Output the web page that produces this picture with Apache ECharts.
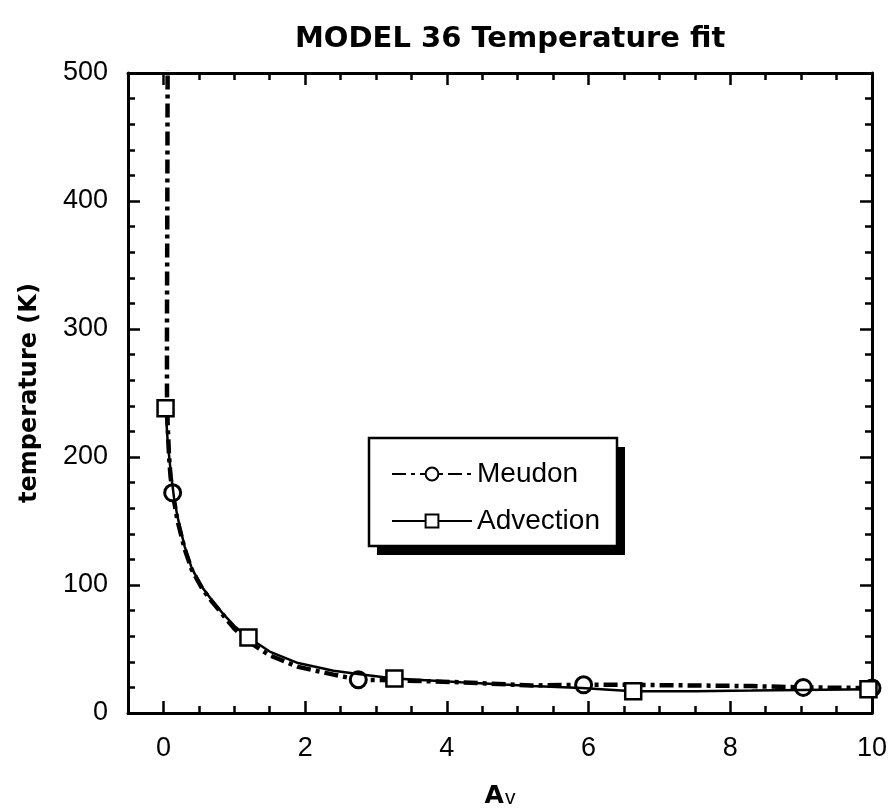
<!DOCTYPE html>
<html>
<head>
<meta charset="utf-8">
<script src="https://cdn.jsdelivr.net/npm/echarts@6/dist/echarts.min.js"></script>
<style>html,body{margin:0;padding:0;background:#fff;}#c{width:888px;height:809px;}</style>
</head>
<body>
<div id="c"></div>
<script>
// ---- data ----
var meudonX = [0.06, 0.055, 0.05, 0.05, 0.06, 0.08, 0.1, 0.13, 0.2, 0.3, 0.4, 0.55, 0.7, 0.85, 1.0, 1.2, 1.5, 1.9, 2.4, 2.75, 3.3, 4.2, 5.2, 5.93, 6.6, 7.5, 8.3, 9.03, 10];
var meudonY = [520, 400, 300, 250, 225, 200, 185, 172, 150, 128, 112, 97, 86, 76, 66, 56, 45, 36, 30, 26, 25.5, 24, 21.5, 22, 22, 21.5, 21, 20, 19.5];
var meudonMarkerX = [0.13, 2.75, 5.93, 9.03, 10];

var advectionX = [0.03, 0.06, 0.1, 0.15, 0.2, 0.3, 0.4, 0.55, 0.7, 0.85, 1.0, 1.2, 1.5, 1.9, 2.4, 2.8, 3.26, 4.2, 5.2, 5.9, 6.63, 7.5, 8.3, 9.0, 9.95];
var advectionY = [238, 212, 190, 168, 153, 130, 113, 98, 87, 77, 68, 59, 48, 39, 33, 30, 27, 24, 21, 19.5, 17, 17, 17.5, 18, 18.5];
var advectionMarkerX = [0.03, 1.2, 3.26, 6.63, 9.95];

var xMajorTicks = [0, 2, 4, 6, 8, 10];
var xMinorTicks = [-0.5, 0.5, 1, 1.5, 2.5, 3, 3.5, 4.5, 5, 5.5, 6.5, 7, 7.5, 8.5, 9, 9.5];
var yTicks = [0, 100, 200, 300, 400, 500];

function build(xs, ys, marks) {
  return xs.map(function (x, i) {
    var item = { value: [x, ys[i]] };
    if (marks.indexOf(x) < 0) item.symbol = 'none';
    return item;
  });
}

var chart = echarts.init(document.getElementById('c'), null, { renderer: 'canvas' });
var tickFont = 'Liberation Sans, Arial, sans-serif';
var boldFont = 'DejaVu Sans, sans-serif';

function xAx(pos, major, showLine, extra) {
  var a = {
    type: 'value', position: pos, min: -0.5, max: 10,
    axisLine: { show: showLine, onZero: false, lineStyle: { color: '#000', width: 3 } },
    axisTick: { show: true, inside: true, customValues: major ? xMajorTicks : xMinorTicks,
      length: major ? 12 : 7, lineStyle: { color: '#000', width: 2.5 } },
    axisLabel: { show: false },
    splitLine: { show: false }
  };
  return Object.assign(a, extra || {});
}

function yAx(pos, extra) {
  var a = {
    type: 'value', position: pos, min: 0, max: 500, interval: 100,
    axisLine: { show: true, onZero: false, lineStyle: { color: '#000', width: 3 } },
    axisTick: { show: true, inside: true, length: 12, lineStyle: { color: '#000', width: 2.5 } },
    minorTick: { show: true, splitNumber: 5, length: 7, lineStyle: { color: '#000', width: 2.5 } },
    axisLabel: { show: false },
    splitLine: { show: false }, minorSplitLine: { show: false }
  };
  return Object.assign(a, extra || {});
}

var option = {
  animation: false,
  backgroundColor: '#fff',
  title: {
    text: 'MODEL 36 Temperature fit',
    left: 290, top: 20,
    textStyle: { fontFamily: boldFont, fontWeight: 'bold', fontSize: 29, color: '#000' }
  },
  grid: { left: 128, right: 16, top: 73, bottom: 96, containLabel: false, outerBoundsMode: 'none' },
  graphic: [
    { type: 'rect', z: 5, silent: true, shape: { x: 377, y: 447, width: 248, height: 108 },
      style: { fill: '#000' } },
    { type: 'rect', z: 5, silent: true, shape: { x: 369, y: 438, width: 248, height: 108 },
      style: { fill: '#fff', stroke: '#000', lineWidth: 2.5 } }
  ],
  legend: {
    orient: 'vertical',
    left: 369, top: 438, z: 10,
    padding: [20, 19, 12, 22],
    itemWidth: 80, itemHeight: 16, itemGap: 15,
    textStyle: { fontFamily: tickFont, fontSize: 28, color: '#000', lineHeight: 32 },
    data: ['Meudon', 'Advection']
  },
  xAxis: [
    xAx('bottom', true, true, {
      axisLabel: { show: true, customValues: xMajorTicks, margin: 22,
        fontFamily: tickFont, fontSize: 27, color: '#000' },
      name: '{a|A}{b|v}', nameLocation: 'middle', nameGap: 70,
      nameTextStyle: { rich: {
        a: { fontFamily: boldFont, fontWeight: 'bold', fontSize: 25, color: '#000' },
        b: { fontFamily: tickFont, fontSize: 21, color: '#000', padding: [5, 0, 0, 1] }
      } }
    }),
    xAx('bottom', false, false),
    xAx('top', true, true),
    xAx('top', false, false)
  ],
  yAxis: [
    yAx('left', {
      axisLabel: { show: true, margin: 20, fontFamily: tickFont, fontSize: 27, color: '#000', customValues: yTicks },
      name: 'temperature (K)', nameLocation: 'middle', nameGap: 86, nameRotate: 90,
      nameTextStyle: { fontFamily: boldFont, fontWeight: 'bold', fontSize: 24, color: '#000' }
    }),
    yAx('right')
  ],
  series: [
    {
      name: 'Meudon', type: 'line', xAxisIndex: 0, yAxisIndex: 0,
      data: build(meudonX, meudonY, meudonMarkerX),
      showSymbol: true, showAllSymbol: true,
      symbol: 'circle', symbolSize: 16,
      itemStyle: { color: '#fff', borderColor: '#000', borderWidth: 3 },
      lineStyle: { color: '#000', width: 4.5, type: [14, 5, 4, 5] },
      z: 3
    },
    {
      name: 'Advection', type: 'line', xAxisIndex: 0, yAxisIndex: 0,
      data: build(advectionX, advectionY, advectionMarkerX),
      showSymbol: true, showAllSymbol: true,
      symbol: 'rect', symbolSize: 16,
      itemStyle: { color: '#fff', borderColor: '#000', borderWidth: 2.5 },
      lineStyle: { color: '#000', width: 2.5 },
      z: 4
    }
  ]
};
chart.setOption(option);
</script>
</body>
</html>
